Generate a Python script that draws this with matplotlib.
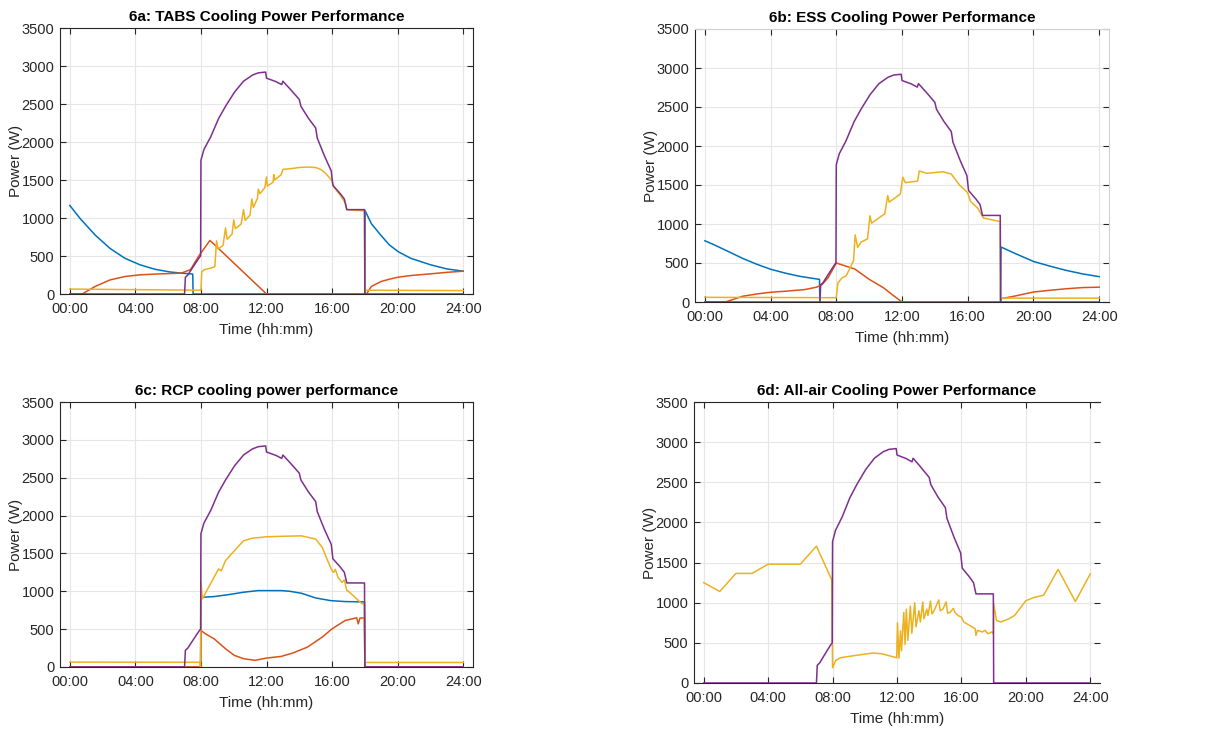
import numpy as np
import matplotlib.pyplot as plt
plt.rcParams.update({'font.family': ['Liberation Sans', 'DejaVu Sans'], 'font.size': 10.5})

# MATLAB default colours
c_blue, c_red, c_yel, c_pur = '#0072BD', '#D95319', '#EDB120', '#7E2F8E'

# cooling load (same in all four panels)
load = [(0, 0), (7.0, 0), (7.05, 220), (7.2, 250), (7.5, 350), (7.9, 480), (7.98, 500),
        (8.0, 1760), (8.18, 1900), (8.6, 2070), (9.0, 2270), (9.08, 2310), (9.5, 2470),
        (10.06, 2660), (10.6, 2800), (11.14, 2880), (11.5, 2910), (11.95, 2920),
        (12.0, 2840), (12.57, 2795), (12.93, 2755), (13.0, 2800), (13.47, 2690),
        (14.0, 2560), (14.1, 2470), (14.55, 2315), (15.0, 2185), (15.1, 2050),
        (15.55, 1810), (15.95, 1620), (16.05, 1430), (16.5, 1320), (16.75, 1250),
        (16.9, 1110), (17.98, 1110), (18.0, 0), (24, 0)]

# 6a TABS
a_blue = [(0, 1165), (0.64, 990), (1.55, 775), (2.45, 600), (3.36, 470), (4.27, 385),
          (5.2, 325), (6.1, 290), (6.8, 275), (7.5, 262), (7.52, 0), (18.0, 0),
          (18.02, 1095), (18.4, 925), (18.97, 775), (19.5, 645), (20.05, 555),
          (20.8, 470), (22, 385), (23, 330), (24, 300)]
a_red = [(0, 0), (0.75, 0), (1.55, 100), (2.45, 185), (3.36, 230), (4.27, 252), (5.2, 262),
         (6.8, 275), (7.36, 320), (7.9, 510), (8.55, 705), (12.0, 0), (18.1, 0),
         (18.4, 100), (19.0, 165), (19.5, 195), (20.0, 220), (20.8, 243), (22.0, 265),
         (23.0, 285), (24.0, 300)]
a_yel = [(0, 65), (7.98, 50), (8.0, 50), (8.05, 290), (8.2, 320), (8.6, 340), (8.85, 360),
         (8.95, 700), (9.05, 590), (9.35, 640), (9.5, 870), (9.6, 720), (9.9, 790),
         (10.0, 975), (10.1, 860), (10.45, 920), (10.6, 1110), (10.7, 970), (11.0, 1040),
         (11.1, 1250), (11.2, 1140), (11.45, 1260), (11.5, 1380), (11.6, 1320),
         (11.9, 1400), (12.0, 1540), (12.05, 1420), (12.4, 1470), (12.45, 1570),
         (12.5, 1500), (12.9, 1570), (13.0, 1640), (13.5, 1650), (14.0, 1665),
         (14.5, 1670), (15.0, 1665), (15.3, 1640), (15.6, 1590), (16.0, 1490),
         (16.1, 1410), (16.5, 1300), (16.8, 1200), (16.9, 1110), (17.9, 1095),
         (17.98, 1090), (18.0, 50), (24, 45)]

# 6b ESS
b_blue = [(0, 785), (0.55, 735), (1.42, 648), (2.29, 560), (3.15, 485), (4.0, 420),
          (4.9, 370), (5.75, 330), (6.6, 302), (6.98, 290), (7.0, 0), (18.0, 0),
          (18.03, 705), (18.8, 630), (20, 520), (21, 460), (22, 405), (23, 360), (24, 325)]
b_red = [(0, 0), (1.25, 0), (2.29, 73), (3.15, 103), (4.0, 125), (4.9, 138), (6.1, 160),
         (6.8, 190), (7.14, 224), (7.5, 310), (8.0, 500), (8.87, 440), (9.13, 422),
         (10.0, 291), (10.87, 183), (11.4, 95), (12.0, 0), (18.0, 0), (18.03, 43),
         (18.8, 73), (20, 128), (21, 150), (22, 170), (23, 185), (24, 190)]
b_yel = [(0, 60), (7.98, 55), (8.0, 55), (8.1, 245), (8.35, 310), (8.6, 335), (8.8, 420),
         (9.05, 530), (9.15, 860), (9.3, 700), (9.5, 765), (9.9, 810), (10.05, 1105),
         (10.15, 1010), (10.5, 1065), (10.95, 1130), (11.13, 1365), (11.22, 1280),
         (11.9, 1385), (12.05, 1600), (12.2, 1530), (12.95, 1550), (13.05, 1680),
         (13.5, 1650), (14.0, 1660), (14.5, 1670), (15.0, 1640), (15.5, 1500),
         (16.0, 1400), (16.17, 1290), (16.6, 1205), (16.96, 1077), (17.9, 1034),
         (17.98, 1030), (18.0, 50), (24, 50)]

# 6c RCP
c_blue_s = [(0, 0), (7.98, 0), (8.0, 920), (8.09, 921), (8.8, 930), (9.69, 956),
            (10.58, 987), (11.47, 1009), (12.9, 1009), (13.42, 1000), (14.13, 974),
            (15.0, 912), (15.9, 877), (16.8, 864), (17.98, 860), (18.0, 0), (24, 0)]
c_red_s = [(0, 0), (7.98, 0), (8.0, 482), (8.27, 439), (8.8, 373), (9.5, 241),
           (10.04, 153), (10.6, 110), (11.3, 88), (12.0, 118), (12.9, 140), (13.6, 184),
           (14.5, 263), (15.4, 395), (16.0, 504), (16.8, 614), (17.5, 650), (17.6, 570),
           (17.7, 645), (17.98, 650), (18.0, 0), (24, 0)]
c_yel_s = [(0, 65), (7.95, 62), (7.97, 0), (8.0, 1120), (8.09, 900), (8.36, 1010),
           (8.8, 1185), (9.07, 1295), (9.24, 1270), (9.5, 1405), (10.04, 1535),
           (10.5, 1645), (10.6, 1667), (11.1, 1700), (12.0, 1720), (13.24, 1728),
           (14.13, 1732), (15.0, 1690), (15.4, 1580), (15.73, 1405), (16.0, 1272),
           (16.1, 1250), (16.2, 1290), (16.36, 1185), (16.6, 1118), (16.75, 1150),
           (16.9, 1010), (17.0, 1000), (17.5, 900), (17.8, 840), (17.98, 830),
           (18.0, 60), (24, 60)]

# 6d All-air
d_yel = [(0, 1250), (1, 1140), (2, 1365), (3, 1365), (4, 1480), (5, 1480), (6, 1480),
         (7, 1705), (7.95, 1285), (8.0, 190), (8.2, 282), (8.5, 315), (9.45, 344),
         (10.5, 373), (11.03, 365), (11.98, 315), (12.03, 750), (12.12, 310),
         (12.22, 650), (12.28, 400), (12.42, 880), (12.5, 480), (12.58, 920),
         (12.67, 530), (12.83, 960), (12.92, 620), (13.1, 1000), (13.18, 700),
         (13.36, 900), (13.45, 760), (13.6, 1010), (13.67, 800), (13.85, 920),
         (13.92, 840), (14.08, 1020), (14.17, 860), (14.3, 900), (14.59, 1035),
         (14.68, 900), (14.85, 920), (15.05, 1010), (15.14, 870), (15.3, 880),
         (15.5, 930), (15.6, 880), (15.79, 840), (16.0, 820), (16.14, 760),
         (16.5, 718), (16.85, 676), (16.9, 593), (17.0, 656), (17.3, 635),
         (17.46, 656), (17.64, 614), (17.9, 635), (17.98, 614), (18.0, 990),
         (18.17, 780), (18.43, 760), (18.96, 800), (19.3, 842), (20.0, 1025),
         (20.5, 1065), (21.1, 1094), (22.0, 1415), (23.07, 1015), (24.0, 1360)]

titles = ['6a: TABS Cooling Power Performance', '6b: ESS Cooling Power Performance',
          '6c: RCP cooling power performance', '6d: All-air Cooling Power Performance']
hour_ticks = [0, 4, 8, 12, 16, 20, 24]
hour_labels = ['00:00', '04:00', '08:00', '12:00', '16:00', '20:00', '24:00']

W, H = 1213, 733
fig = plt.figure(figsize=(W / 100, H / 100), dpi=100)
boxes = [(60, 473, 28, 294), (695, 1109, 29, 302), (60, 473, 402, 667), (694, 1100, 402, 683)]
series = [[(a_blue, c_blue), (a_red, c_red), (a_yel, c_yel)],
          [(b_blue, c_blue), (b_red, c_red), (b_yel, c_yel)],
          [(c_blue_s, c_blue), (c_red_s, c_red), (c_yel_s, c_yel)],
          [(d_yel, c_yel)]]

for i, (l, r, t, b) in enumerate(boxes):
    ax = fig.add_axes([l / W, 1 - b / H, (r - l) / W, (b - t) / H])
    for data, col in series[i]:
        x, y = zip(*data)
        ax.plot(x, y, color=col, lw=1.1, zorder=3)
    x, y = zip(*load)
    ax.plot(x, y, color=c_pur, lw=1.1, zorder=4)
    ax.set_xlim(-0.6, 24.6)
    ax.set_ylim(0, 3500)
    ax.set_xticks(hour_ticks, hour_labels)
    ax.set_yticks(np.arange(0, 3501, 500))
    ax.grid(True, color='#e6e6e6', lw=0.8)
    ax.set_axisbelow(True)
    ax.tick_params(direction='in', length=4, top=True, right=True, colors='#262626',
                   labelsize=10.5, width=0.8)
    ax.tick_params(axis='x', pad=6)
    ax.tick_params(axis='y', pad=4)
    for s in ax.spines.values():
        s.set_color('#262626')
        s.set_linewidth(0.8)
    if i == 1:
        ax.spines['top'].set_color('#d0d0d0')
        ax.spines['right'].set_color('#d0d0d0')
    if i == 3:
        ax.spines['right'].set_visible(False)
    ax.set_title(titles[i], fontsize=11, fontweight='bold', pad=5)
    ax.set_xlabel('Time (hh:mm)', fontsize=11, color='#262626', labelpad=5)
    ax.set_ylabel('Power (W)', fontsize=11, color='#262626', labelpad=-1)

fig.savefig('out.png', dpi=100)
